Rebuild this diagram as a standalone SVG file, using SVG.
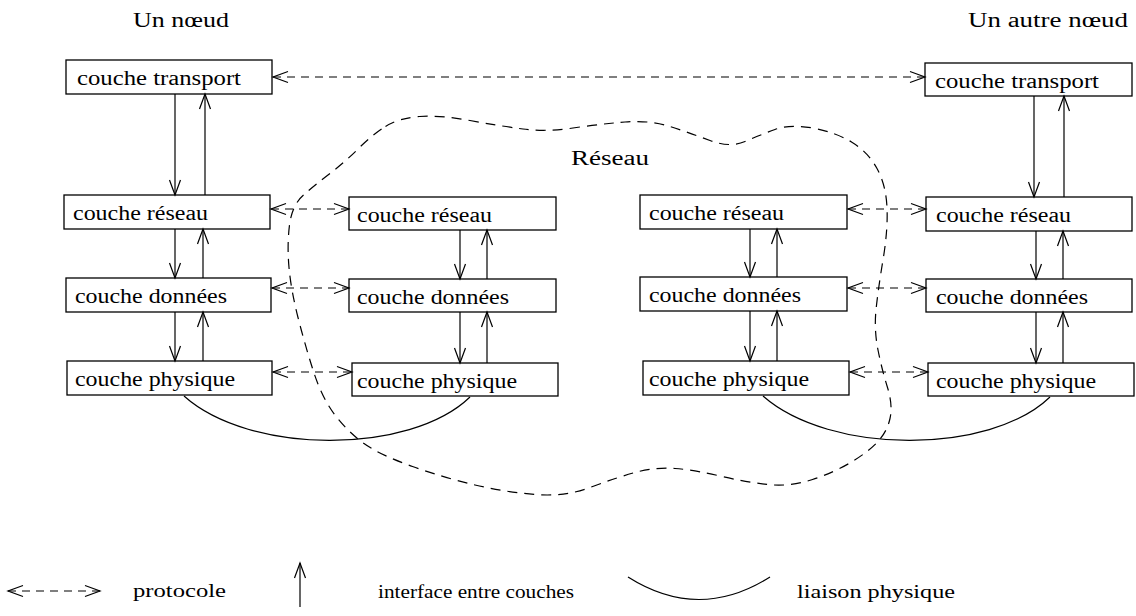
<svg xmlns="http://www.w3.org/2000/svg" width="1136" height="616" viewBox="0 0 1136 616">
  <style>
    .box { fill: #fff; stroke: #000; stroke-width: 1.3; }
    .lbl { font-family: "Liberation Serif", "DejaVu Serif", serif; font-size: 20px; fill: #000; }
    .leg { font-family: "Liberation Serif", "DejaVu Serif", serif; font-size: 18px; fill: #000; }
    .iface { stroke: #000; stroke-width: 1.2; fill: none; marker-end: url(#head); }
    .proto { stroke: #000; stroke-width: 1.2; fill: none; stroke-dasharray: 8 6; marker-start: url(#head); marker-end: url(#head); }
    .link { stroke: #000; stroke-width: 1.2; fill: none; }
    .cloud { stroke: #000; stroke-width: 1.2; fill: none; stroke-dasharray: 10 7; }
  </style>
  <defs>
    <marker id="head" markerUnits="userSpaceOnUse" markerWidth="18" markerHeight="14" viewBox="0 0 18 14" refX="16" refY="7" orient="auto-start-reverse">
      <path d="M1,1.5 L16,7 L1,12.5" fill="none" stroke="#000" stroke-width="1.2" stroke-dasharray="none"/>
    </marker>
  </defs>

  <rect width="1136" height="616" fill="#fff"/>

  <!-- network cloud -->
  <g id="reseau">
    <path class="cloud" d="M385.5,126.5 Q399,118 419.5,116.5 Q440,115 470,120.5 Q500,126 523,129 Q546,132 573,128 Q600,124 625,122 Q650,120 670,126.5 Q690,133 710,140.5 Q730,148 745,141.5 Q760,135 775,129.5 Q790,124 812.5,128 Q835,132 851.5,142 Q868,152 877,168.5 Q886,185 887,207.5 Q888,230 883,260 Q878,290 876,310 Q874,330 878,350 Q882,370 887.5,387.5 Q893,405 890,418.5 Q887,432 877.5,442 Q868,452 851.5,462 Q835,472 812.5,479.5 Q790,487 767.5,484.5 Q745,482 720,476 Q695,470 675,468.5 Q655,467 635,472.5 Q615,478 590,487.5 Q565,497 535,494.5 Q505,492 475,485 Q445,478 412.5,466.5 Q380,455 364,443.5 Q348,432 335,415 Q322,398 313.5,371.5 Q305,345 298,317.5 Q291,290 289,267.5 Q287,245 289.5,225 Q292,205 303.5,195 Q315,185 330,173.5 Q345,162 358.5,148.5 Q372,135 385.5,126.5 Z"/>
    <text class="lbl" x="571" y="165" textLength="78" lengthAdjust="spacingAndGlyphs">Réseau</text>
  </g>

  <!-- headings -->
  <text class="lbl" x="133" y="27" textLength="96" lengthAdjust="spacingAndGlyphs">Un nœud</text>
  <text class="lbl" x="968" y="27" textLength="160" lengthAdjust="spacingAndGlyphs">Un autre nœud</text>

  <!-- first node -->
  <g id="a-transport">
    <rect class="box" x="66" y="60" width="206" height="34"/>
    <text class="lbl" x="77" y="85" textLength="164" lengthAdjust="spacingAndGlyphs">couche transport</text>
  </g>
  <g id="a-reseau">
    <rect class="box" x="64" y="195" width="206" height="34"/>
    <text class="lbl" x="73" y="220" textLength="135" lengthAdjust="spacingAndGlyphs">couche réseau</text>
  </g>
  <g id="a-donnees">
    <rect class="box" x="66" y="278" width="205" height="34"/>
    <text class="lbl" x="75" y="303" textLength="152" lengthAdjust="spacingAndGlyphs">couche données</text>
  </g>
  <g id="a-physique">
    <rect class="box" x="67" y="361" width="205" height="34"/>
    <text class="lbl" x="75" y="386" textLength="160" lengthAdjust="spacingAndGlyphs">couche physique</text>
  </g>

  <!-- first relay -->
  <g id="b-reseau">
    <rect class="box" x="349" y="197" width="207" height="33"/>
    <text class="lbl" x="357" y="222" textLength="135" lengthAdjust="spacingAndGlyphs">couche réseau</text>
  </g>
  <g id="b-donnees">
    <rect class="box" x="349" y="279" width="207" height="33"/>
    <text class="lbl" x="357" y="304" textLength="152" lengthAdjust="spacingAndGlyphs">couche données</text>
  </g>
  <g id="b-physique">
    <rect class="box" x="352" y="363" width="206" height="33"/>
    <text class="lbl" x="357" y="388" textLength="160" lengthAdjust="spacingAndGlyphs">couche physique</text>
  </g>

  <!-- second relay -->
  <g id="c-reseau">
    <rect class="box" x="640" y="195" width="207" height="34"/>
    <text class="lbl" x="649" y="220" textLength="135" lengthAdjust="spacingAndGlyphs">couche réseau</text>
  </g>
  <g id="c-donnees">
    <rect class="box" x="640" y="277" width="207" height="34"/>
    <text class="lbl" x="649" y="302" textLength="152" lengthAdjust="spacingAndGlyphs">couche données</text>
  </g>
  <g id="c-physique">
    <rect class="box" x="643" y="361" width="206" height="34"/>
    <text class="lbl" x="649" y="386" textLength="160" lengthAdjust="spacingAndGlyphs">couche physique</text>
  </g>

  <!-- other node -->
  <g id="d-transport">
    <rect class="box" x="925" y="63" width="207" height="33"/>
    <text class="lbl" x="935" y="88" textLength="164" lengthAdjust="spacingAndGlyphs">couche transport</text>
  </g>
  <g id="d-reseau">
    <rect class="box" x="926" y="197" width="206" height="34"/>
    <text class="lbl" x="936" y="222" textLength="135" lengthAdjust="spacingAndGlyphs">couche réseau</text>
  </g>
  <g id="d-donnees">
    <rect class="box" x="926" y="279" width="206" height="33"/>
    <text class="lbl" x="936" y="304" textLength="152" lengthAdjust="spacingAndGlyphs">couche données</text>
  </g>
  <g id="d-physique">
    <rect class="box" x="928" y="363" width="206" height="33"/>
    <text class="lbl" x="936" y="388" textLength="160" lengthAdjust="spacingAndGlyphs">couche physique</text>
  </g>

  <!-- connectors -->
  <g id="connectors">
    <!-- layer interfaces, first node -->
    <line class="iface" x1="175" y1="94" x2="175" y2="195"/>
    <line class="iface" x1="205" y1="195" x2="205" y2="94"/>
    <line class="iface" x1="175" y1="229" x2="175" y2="278"/>
    <line class="iface" x1="203" y1="278" x2="203" y2="229"/>
    <line class="iface" x1="175" y1="312" x2="175" y2="361"/>
    <line class="iface" x1="203" y1="361" x2="203" y2="312"/>
    <!-- first relay -->
    <line class="iface" x1="460" y1="230" x2="460" y2="279"/>
    <line class="iface" x1="487" y1="279" x2="487" y2="230"/>
    <line class="iface" x1="460" y1="312" x2="460" y2="363"/>
    <line class="iface" x1="487" y1="363" x2="487" y2="312"/>
    <!-- second relay -->
    <line class="iface" x1="750" y1="229" x2="750" y2="277"/>
    <line class="iface" x1="777" y1="277" x2="777" y2="229"/>
    <line class="iface" x1="750" y1="311" x2="750" y2="361"/>
    <line class="iface" x1="777" y1="361" x2="777" y2="311"/>
    <!-- other node -->
    <line class="iface" x1="1034" y1="96" x2="1034" y2="197"/>
    <line class="iface" x1="1064" y1="197" x2="1064" y2="96"/>
    <line class="iface" x1="1036" y1="231" x2="1036" y2="279"/>
    <line class="iface" x1="1063" y1="279" x2="1063" y2="231"/>
    <line class="iface" x1="1036" y1="312" x2="1036" y2="363"/>
    <line class="iface" x1="1063" y1="363" x2="1063" y2="312"/>

    <!-- peer protocols -->
    <line class="proto" x1="273" y1="77" x2="925" y2="77"/>
    <line class="proto" x1="271" y1="209" x2="349" y2="209"/>
    <line class="proto" x1="272" y1="288" x2="349" y2="288"/>
    <line class="proto" x1="273" y1="372" x2="352" y2="372"/>
    <line class="proto" x1="848" y1="209" x2="926" y2="209"/>
    <line class="proto" x1="848" y1="288" x2="926" y2="288"/>
    <line class="proto" x1="850" y1="372" x2="928" y2="372"/>

    <!-- physical links -->
    <path class="link" d="M184,396 C250,455 410,455 470,397"/>
    <path class="link" d="M763,396 C830,455 990,455 1050,397"/>
  </g>

  <!-- legend -->
  <g id="legend">
    <line class="proto" x1="8" y1="591" x2="100" y2="591"/>
    <text class="leg" x="133" y="597" textLength="93" lengthAdjust="spacingAndGlyphs">protocole</text>
    <line class="iface" x1="300" y1="607" x2="300" y2="563"/>
    <text class="leg" x="378" y="598" textLength="196" lengthAdjust="spacingAndGlyphs">interface entre couches</text>
    <path class="link" d="M628,577 Q699,622 770,577"/>
    <text class="leg" x="797" y="598" textLength="158" lengthAdjust="spacingAndGlyphs">liaison physique</text>
  </g>
</svg>
